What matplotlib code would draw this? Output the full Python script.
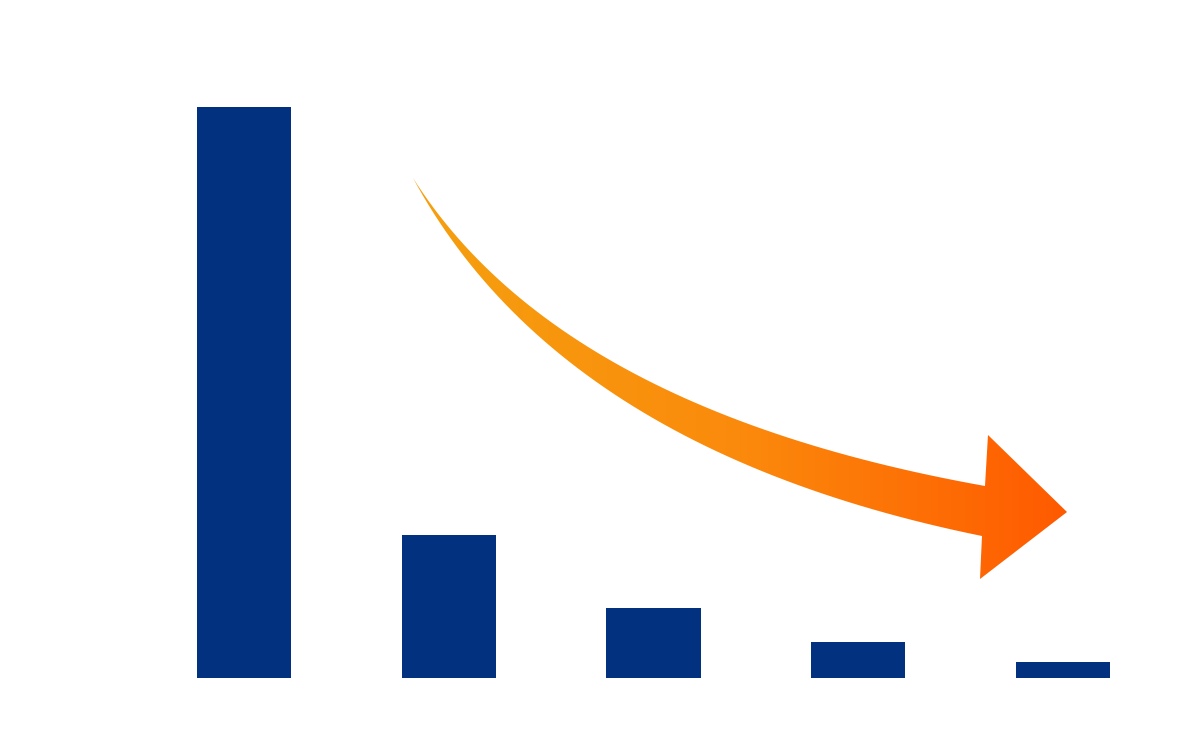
import numpy as np
import matplotlib
matplotlib.use("Agg")
import matplotlib.pyplot as plt
from matplotlib.path import Path
from matplotlib.patches import PathPatch
from matplotlib.colors import LinearSegmentedColormap

# bar data (relative heights)
categories = ["A", "B", "C", "D", "E"]
values = [100, 25.0, 12.3, 6.3, 2.8]
bar_color = "#02327F"

W, H = 1177, 756
fig = plt.figure(figsize=(W / 100, H / 100), dpi=100)

# main axes: bar baseline at y=678px, top of first bar at y=107px
ax = fig.add_axes([0, 78 / H, 1, 571 / H])
x = np.arange(len(categories))
ax.bar(x, values, width=0.46, color=bar_color)
ax.set_xlim(-244 / 204.75, 4 + (W - 1063) / 204.75)
ax.set_ylim(0, 100)
ax.axis("off")

# overlay in pixel coords for the decorative gradient arrow
ov = fig.add_axes([0, 0, 1, 1])
ov.set_xlim(0, W)
ov.set_ylim(H, 0)
ov.axis("off")
ov.patch.set_alpha(0)


def bez(p0, c, p2, n=60):
    t = np.linspace(0, 1, n)[:, None]
    p0, c, p2 = map(np.array, (p0, c, p2))
    return (1 - t) ** 2 * p0 + 2 * (1 - t) * t * c + t ** 2 * p2


upper = bez((413, 178), (560, 410), (985, 486))
lower = bez((413, 178), (560, 450), (982, 536))
head = np.array([(988, 435), (1067, 512), (980, 579)])
pts = np.vstack([upper, [head[0]], [head[1]], [head[2]], lower[::-1]])
path = Path(pts, closed=False)
patch = PathPatch(path, facecolor="none", edgecolor="none")
ov.add_patch(patch)

cmap = LinearSegmentedColormap.from_list("arr", ["#F5A00F", "#FB8A0C", "#FF5A00"])
grad = np.linspace(0, 1, 256)[None, :]
im = ov.imshow(grad, cmap=cmap, extent=(413, 1068, 580, 175), aspect="auto",
               interpolation="bilinear")
im.set_clip_path(patch)

fig.savefig("out.png", dpi=100, facecolor="white")
